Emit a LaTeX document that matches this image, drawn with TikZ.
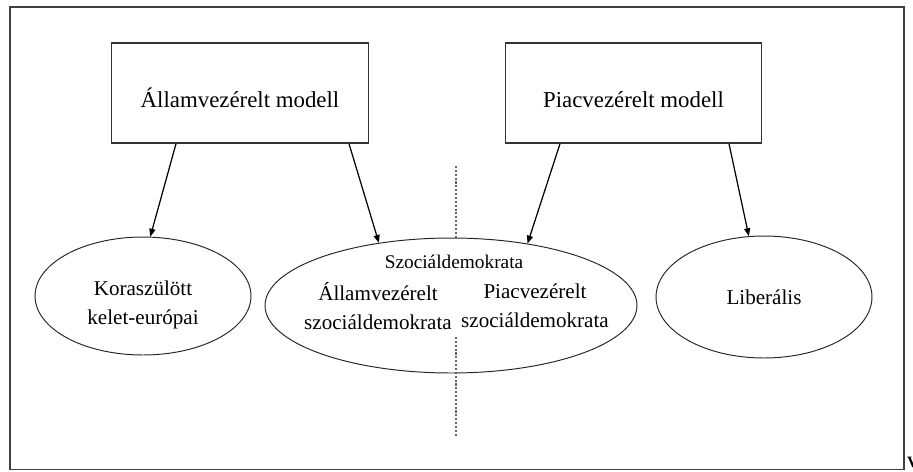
\documentclass[tikz,border=0pt]{standalone}
\usepackage{fontspec}
\setmainfont{Liberation Serif}
\usetikzlibrary{arrows.meta,positioning,shapes.geometric,calc}

\begin{document}
\begin{tikzpicture}[
  x=0.02cm, y=-0.02cm,
  model/.style={rectangle, draw=black!80, line width=0.8pt, minimum width=5.13cm,
                minimum height=2cm, align=center, text height=16pt, text depth=0pt,
                font=\fontsize{13}{15}\selectfont},
  group/.style={ellipse, draw=black!85, line width=0.55pt, align=center,
                font=\fontsize{12}{16.5}\selectfont},
  inside/.style={align=center, inner sep=1pt, font=\fontsize{12}{16.5}\selectfont},
  arrow/.style={-{Triangle[length=4.5pt, width=3.5pt]}, line width=0.7pt},
  divider/.style={draw=black!60, line width=0.6pt, dash pattern=on 1.2pt off 1pt}
]
  \useasboundingbox (0,0) rectangle (913,471);
  \clip (0,0) rectangle (913,471);

  % frame
  \draw[line width=0.85pt, black!75] (10,7) rectangle (904,469.5);

  % the two models
  \node[model] (allam) at (240,93) {Államvezérelt modell};
  \node[model] (piac) at (633.5,93) {Piacvezérelt modell};

  % the welfare groups
  \node[group, minimum width=4.32cm, minimum height=2.36cm] (kora) at (143,296) {};
  \node[group, minimum width=7.44cm, minimum height=2.7cm] (szoc) at (451,305.5) {};
  \node[group, minimum width=4.32cm, minimum height=2.44cm] (liber) at (764,297) {Liberális};

  \node[inside] (koratext) at (143,305) {Koraszülött\\kelet-európai};
  \node[inside, font=\fontsize{11}{13}\selectfont] (szoctitle) at (454,262) {Szociáldemokrata};
  \node[inside] (szocl) at (378,306) {Államvezérelt\\szociáldemokrata};
  \node[inside] (szocr) at (535,306) {Piacvezérelt\\szociáldemokrata};

  % dividing line
  \coordinate (dtop) at (456,166);
  \coordinate (dlow) at (456,337);
  \coordinate (dbot) at (456,437);
  \draw[divider] (dtop) -- (dtop |- szoc.north);
  \draw[divider] (dlow) -- (dbot);

  \draw[arrow] ([xshift=-1.28cm]allam.south) -- (kora.83);
  \draw[arrow] ([xshift=2.18cm]allam.south) -- (szoc.139);
  \draw[arrow] ([xshift=-1.47cm]piac.south) -- (szoc.39);
  \draw[arrow] ([xshift=1.91cm]piac.south) -- (liber.104);

  \node[font=\bfseries\fontsize{9}{9}\selectfont, anchor=base west, inner sep=0pt] (cutv) at (906.7,467) {V};
\end{tikzpicture}
\end{document}
